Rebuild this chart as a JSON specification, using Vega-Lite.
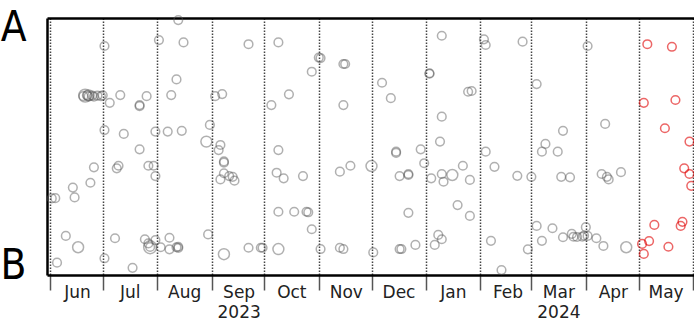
{
  "$schema": "https://vega.github.io/schema/vega-lite/v6.json",
  "autosize": {"type": "none"},
  "padding": {"left": 47, "top": 18, "right": 0, "bottom": 45},
  "width": 647,
  "height": 257,
  "background": "white",
  "config": {"view": {"stroke": null}},
  "data": {"values": [
    {"t": "2023/06/02", "v": 29.8, "w": 1}, {"t": "2023/06/04", "v": 29.9, "w": 1}, {"t": "2023/06/05", "v": 4.8, "w": 1},
    {"t": "2023/06/10", "v": 15.2, "w": 1}, {"t": "2023/06/17", "v": 10.8, "w": 2}, {"t": "2023/06/14", "v": 34.0, "w": 1},
    {"t": "2023/06/15", "v": 30.2, "w": 1}, {"t": "2023/06/24", "v": 35.9, "w": 1}, {"t": "2023/06/26", "v": 41.9, "w": 1},
    {"t": "2023/06/21", "v": 69.8, "w": 3}, {"t": "2023/06/23", "v": 69.9, "w": 2},
    {"t": "2023/06/20", "v": 69.6, "w": 1}, {"t": "2023/06/22", "v": 69.9, "w": 1}, {"t": "2023/06/23", "v": 69.5, "w": 1},
    {"t": "2023/06/25", "v": 69.8, "w": 1}, {"t": "2023/06/26", "v": 69.4, "w": 1}, {"t": "2023/06/28", "v": 69.8, "w": 1},
    {"t": "2023/06/30", "v": 69.6, "w": 1}, {"t": "2023/07/01", "v": 69.9, "w": 1},
    {"t": "2023/07/02", "v": 89.1, "w": 1}, {"t": "2023/07/05", "v": 67.0, "w": 1}, {"t": "2023/07/11", "v": 70.0, "w": 1},
    {"t": "2023/07/02", "v": 56.4, "w": 1}, {"t": "2023/07/13", "v": 54.9, "w": 1}, {"t": "2023/07/26", "v": 69.6, "w": 1},
    {"t": "2023/07/22", "v": 66.1, "w": 1}, {"t": "2023/07/22", "v": 65.7, "w": 1}, {"t": "2023/07/22", "v": 48.9, "w": 1},
    {"t": "2023/07/10", "v": 42.5, "w": 1}, {"t": "2023/07/09", "v": 41.5, "w": 1}, {"t": "2023/07/27", "v": 42.5, "w": 1},
    {"t": "2023/07/30", "v": 42.5, "w": 1}, {"t": "2023/07/31", "v": 38.5, "w": 1}, {"t": "2023/07/08", "v": 14.3, "w": 1},
    {"t": "2023/07/02", "v": 6.5, "w": 1}, {"t": "2023/07/18", "v": 2.8, "w": 1}, {"t": "2023/07/25", "v": 13.9, "w": 1},
    {"t": "2023/07/27", "v": 12.3, "w": 1}, {"t": "2023/07/28", "v": 10.8, "w": 3}, {"t": "2023/07/28", "v": 10.9, "w": 1},
    {"t": "2023/07/31", "v": 13.6, "w": 1}, {"t": "2023/07/31", "v": 55.8, "w": 1},
    {"t": "2023/08/02", "v": 91.4, "w": 1}, {"t": "2023/08/13", "v": 99.2, "w": 1}, {"t": "2023/08/16", "v": 90.5, "w": 1},
    {"t": "2023/08/12", "v": 76.1, "w": 1}, {"t": "2023/08/09", "v": 70.0, "w": 1}, {"t": "2023/08/07", "v": 55.8, "w": 1},
    {"t": "2023/08/15", "v": 56.1, "w": 1}, {"t": "2023/08/08", "v": 14.5, "w": 1}, {"t": "2023/08/03", "v": 10.8, "w": 1},
    {"t": "2023/08/08", "v": 10.0, "w": 1}, {"t": "2023/08/12", "v": 10.8, "w": 1}, {"t": "2023/08/13", "v": 11.0, "w": 1},
    {"t": "2023/08/13", "v": 10.5, "w": 1}, {"t": "2023/08/30", "v": 15.8, "w": 1}, {"t": "2023/08/31", "v": 58.4, "w": 1},
    {"t": "2023/08/29", "v": 51.9, "w": 2},
    {"t": "2023/09/03", "v": 69.6, "w": 1}, {"t": "2023/09/07", "v": 70.4, "w": 1}, {"t": "2023/09/22", "v": 89.8, "w": 1},
    {"t": "2023/09/06", "v": 50.6, "w": 1}, {"t": "2023/09/05", "v": 48.6, "w": 1}, {"t": "2023/09/08", "v": 43.7, "w": 1},
    {"t": "2023/09/08", "v": 44.2, "w": 1}, {"t": "2023/09/08", "v": 39.6, "w": 1}, {"t": "2023/09/06", "v": 37.2, "w": 1},
    {"t": "2023/09/11", "v": 38.5, "w": 1}, {"t": "2023/09/13", "v": 38.2, "w": 1}, {"t": "2023/09/14", "v": 36.7, "w": 1},
    {"t": "2023/09/08", "v": 8.1, "w": 2}, {"t": "2023/09/22", "v": 10.6, "w": 1}, {"t": "2023/09/29", "v": 10.6, "w": 1},
    {"t": "2023/09/30", "v": 10.6, "w": 1},
    {"t": "2023/10/05", "v": 66.1, "w": 1}, {"t": "2023/10/09", "v": 90.5, "w": 1}, {"t": "2023/10/15", "v": 70.3, "w": 1},
    {"t": "2023/10/28", "v": 79.1, "w": 1}, {"t": "2023/11/01", "v": 84.6, "w": 1}, {"t": "2023/11/02", "v": 84.4, "w": 1},
    {"t": "2023/10/09", "v": 48.6, "w": 1}, {"t": "2023/10/08", "v": 39.8, "w": 1}, {"t": "2023/10/12", "v": 37.6, "w": 1},
    {"t": "2023/10/23", "v": 38.5, "w": 1}, {"t": "2023/10/09", "v": 24.6, "w": 1}, {"t": "2023/10/18", "v": 24.6, "w": 1},
    {"t": "2023/10/25", "v": 24.6, "w": 1}, {"t": "2023/10/26", "v": 24.4, "w": 1}, {"t": "2023/10/28", "v": 17.8, "w": 1},
    {"t": "2023/10/09", "v": 10.1, "w": 2},
    {"t": "2023/11/02", "v": 10.1, "w": 1}, {"t": "2023/11/15", "v": 82.1, "w": 1}, {"t": "2023/11/16", "v": 82.1, "w": 1},
    {"t": "2023/11/15", "v": 66.1, "w": 1}, {"t": "2023/11/13", "v": 40.2, "w": 1}, {"t": "2023/11/19", "v": 42.5, "w": 1},
    {"t": "2023/11/13", "v": 10.6, "w": 1}, {"t": "2023/11/15", "v": 10.1, "w": 1}, {"t": "2023/12/01", "v": 42.4, "w": 2},
    {"t": "2023/12/02", "v": 8.8, "w": 1},
    {"t": "2023/12/07", "v": 74.8, "w": 1}, {"t": "2023/12/12", "v": 68.8, "w": 1}, {"t": "2023/12/15", "v": 48.0, "w": 1},
    {"t": "2023/12/15", "v": 47.5, "w": 1}, {"t": "2023/12/29", "v": 48.9, "w": 1}, {"t": "2023/12/31", "v": 43.5, "w": 1},
    {"t": "2023/12/17", "v": 38.5, "w": 1}, {"t": "2023/12/22", "v": 38.9, "w": 1}, {"t": "2023/12/22", "v": 39.3, "w": 1},
    {"t": "2023/12/22", "v": 24.2, "w": 1}, {"t": "2023/12/17", "v": 10.1, "w": 1}, {"t": "2023/12/18", "v": 10.1, "w": 1},
    {"t": "2023/12/26", "v": 11.7, "w": 1},
    {"t": "2024/01/03", "v": 78.5, "w": 1}, {"t": "2024/01/03", "v": 78.3, "w": 1}, {"t": "2024/01/10", "v": 93.1, "w": 1},
    {"t": "2024/01/10", "v": 61.6, "w": 1}, {"t": "2024/01/09", "v": 51.9, "w": 1}, {"t": "2024/01/04", "v": 37.6, "w": 1},
    {"t": "2024/01/10", "v": 39.3, "w": 1}, {"t": "2024/01/11", "v": 36.3, "w": 1}, {"t": "2024/01/16", "v": 38.9, "w": 2},
    {"t": "2024/01/22", "v": 42.5, "w": 1}, {"t": "2024/01/26", "v": 37.0, "w": 1}, {"t": "2024/01/19", "v": 27.2, "w": 1},
    {"t": "2024/01/26", "v": 23.0, "w": 1}, {"t": "2024/01/08", "v": 15.6, "w": 1}, {"t": "2024/01/10", "v": 13.9, "w": 1},
    {"t": "2024/01/06", "v": 11.7, "w": 1}, {"t": "2024/01/25", "v": 71.3, "w": 1}, {"t": "2024/01/27", "v": 71.6, "w": 1},
    {"t": "2024/02/03", "v": 91.7, "w": 1}, {"t": "2024/02/04", "v": 89.5, "w": 1}, {"t": "2024/02/04", "v": 48.0, "w": 1},
    {"t": "2024/02/07", "v": 13.3, "w": 1}, {"t": "2024/02/09", "v": 42.1, "w": 1}, {"t": "2024/02/13", "v": 1.9, "w": 1},
    {"t": "2024/02/25", "v": 90.8, "w": 1}, {"t": "2024/02/22", "v": 38.6, "w": 1}, {"t": "2024/02/28", "v": 10.0, "w": 1},
    {"t": "2024/03/01", "v": 38.2, "w": 1}, {"t": "2024/03/04", "v": 74.3, "w": 1}, {"t": "2024/03/09", "v": 51.0, "w": 1},
    {"t": "2024/03/07", "v": 48.0, "w": 1}, {"t": "2024/03/16", "v": 48.0, "w": 1}, {"t": "2024/03/19", "v": 56.1, "w": 1},
    {"t": "2024/03/18", "v": 38.2, "w": 1}, {"t": "2024/03/23", "v": 38.0, "w": 1}, {"t": "2024/03/04", "v": 19.1, "w": 1},
    {"t": "2024/03/07", "v": 13.3, "w": 1}, {"t": "2024/03/13", "v": 18.2, "w": 1}, {"t": "2024/03/19", "v": 14.7, "w": 1},
    {"t": "2024/03/24", "v": 16.0, "w": 1}, {"t": "2024/03/25", "v": 14.9, "w": 1}, {"t": "2024/03/27", "v": 14.8, "w": 1},
    {"t": "2024/03/30", "v": 14.9, "w": 1}, {"t": "2024/03/31", "v": 15.3, "w": 1}, {"t": "2024/04/01", "v": 18.6, "w": 1},
    {"t": "2024/04/02", "v": 15.2, "w": 1}, {"t": "2024/04/07", "v": 14.3, "w": 1}, {"t": "2024/04/02", "v": 89.1, "w": 1},
    {"t": "2024/04/12", "v": 58.8, "w": 1}, {"t": "2024/04/10", "v": 39.3, "w": 1}, {"t": "2024/04/13", "v": 38.2, "w": 1},
    {"t": "2024/04/14", "v": 37.2, "w": 1}, {"t": "2024/04/21", "v": 40.0, "w": 1}, {"t": "2024/04/11", "v": 11.3, "w": 1},
    {"t": "2024/04/24", "v": 10.8, "w": 2},
    {"t": "2024/05/06", "v": 89.8, "w": 1}, {"t": "2024/05/20", "v": 88.8, "w": 1}, {"t": "2024/05/04", "v": 67.0, "w": 1},
    {"t": "2024/05/22", "v": 68.1, "w": 1}, {"t": "2024/05/16", "v": 57.1, "w": 1}, {"t": "2024/05/30", "v": 51.9, "w": 1},
    {"t": "2024/05/27", "v": 41.5, "w": 1}, {"t": "2024/05/30", "v": 39.3, "w": 1}, {"t": "2024/05/31", "v": 34.7, "w": 1},
    {"t": "2024/05/10", "v": 19.5, "w": 1}, {"t": "2024/05/26", "v": 20.7, "w": 1}, {"t": "2024/05/25", "v": 19.1, "w": 1},
    {"t": "2024/05/07", "v": 13.2, "w": 1}, {"t": "2024/05/03", "v": 12.1, "w": 1}, {"t": "2024/05/04", "v": 8.2, "w": 1},
    {"t": "2024/05/18", "v": 11.0, "w": 1}
  ]},
  "resolve": {"axis": {"x": "independent"}},
  "layer": [
    {
      "mark": {"type": "point", "shape": "circle", "filled": false, "strokeWidth": 1.5, "clip": false},
      "encoding": {
        "x": {
          "field": "t", "type": "temporal",
          "scale": {"domain": [{"year": 2023, "month": 5, "date": 30, "hours": 7}, {"year": 2024, "month": 6, "date": 1, "hours": 13, "minutes": 40}], "nice": false},
          "axis": {
            "orient": "bottom",
            "title": null,
            "values": [
              {"year": 2023, "month": 6, "date": 1}, {"year": 2023, "month": 7, "date": 1}, {"year": 2023, "month": 8, "date": 1},
              {"year": 2023, "month": 9, "date": 1}, {"year": 2023, "month": 10, "date": 1}, {"year": 2023, "month": 11, "date": 1},
              {"year": 2023, "month": 12, "date": 1}, {"year": 2024, "month": 1, "date": 1}, {"year": 2024, "month": 2, "date": 1},
              {"year": 2024, "month": 3, "date": 1}, {"year": 2024, "month": 4, "date": 1}, {"year": 2024, "month": 5, "date": 1},
              {"year": 2024, "month": 6, "date": 1}
            ],
            "grid": true, "gridDash": [1.5, 1.5], "gridColor": "#444", "gridWidth": 1.5, "gridOpacity": 1,
            "domain": true, "domainColor": "black", "domainWidth": 2.5,
            "ticks": true, "tickSize": 15, "tickColor": "#555", "tickWidth": 1.5,
            "labelExpr": "month(datum.value)==8 ? ['Sep','2023'] : month(datum.value)==2 ? ['Mar','2024'] : (year(datum.value)==2024 && month(datum.value)==5) ? '' : timeFormat(datum.value,'%b')",
            "labelOffset": 27, "labelAlign": "center", "labelBaseline": "top", "labelPadding": -6,
            "labelFont": "DejaVu Sans", "labelFontSize": 17, "labelColor": "#222", "labelLineHeight": 20,
            "labelOverlap": false, "labelBound": false, "labelFlush": false
          }
        },
        "y": {
          "field": "v", "type": "quantitative",
          "scale": {"domain": [0, 100], "nice": false, "zero": false},
          "axis": {
            "title": null, "values": [3.8, 96.2],
            "labelExpr": "datum.value > 50 ? 'A' : 'B'",
            "ticks": false, "grid": false,
            "domain": true, "domainColor": "black", "domainWidth": 2.5,
            "labelFont": "DejaVu Sans Condensed, Liberation Sans Narrow, DejaVu Sans", "labelFontSize": 42, "labelColor": "black",
            "labelPadding": 21, "labelBaseline": "middle"
          }
        },
        "size": {"field": "w", "type": "ordinal", "scale": {"domain": [1, 2, 3], "range": [75, 165, 400]}, "legend": null},
        "stroke": {"condition": {"test": "datum.t >= datetime(2024, 4, 1)", "value": "#e00000"}, "value": "#555555"},
        "strokeOpacity": {"condition": {"test": "datum.t >= datetime(2024, 4, 1)", "value": 0.85}, "value": 0.65}
      }
    },
    {
      "mark": {"type": "point", "opacity": 0},
      "encoding": {
        "x": {
          "field": "t", "type": "temporal",
          "axis": {"orient": "top", "title": null, "labels": false, "ticks": false, "grid": false, "domain": true, "domainColor": "black", "domainWidth": 2.5}
        }
      }
    }
  ]
}
